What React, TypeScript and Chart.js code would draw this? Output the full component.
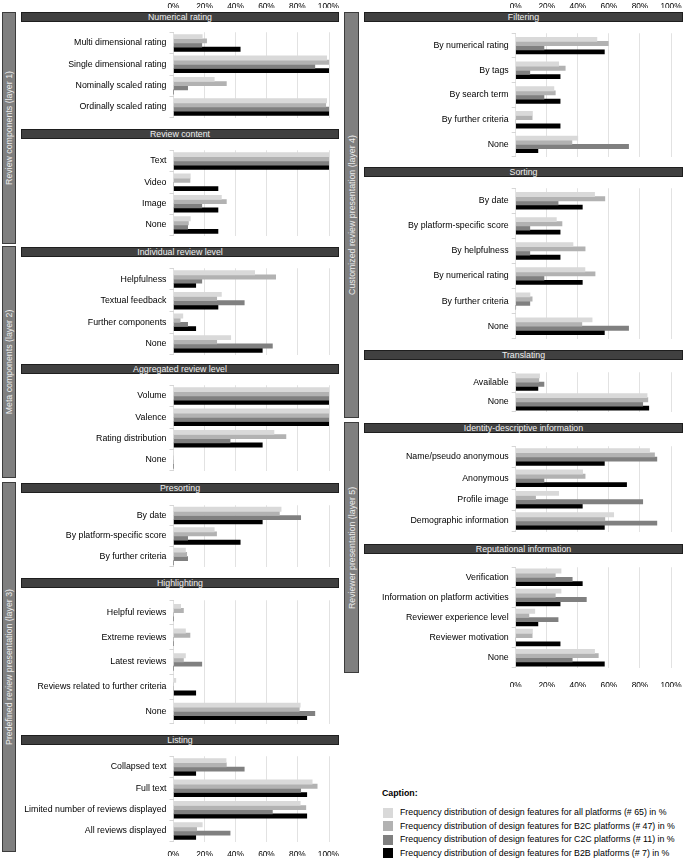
import React, { useEffect, useRef } from 'react';
import { Chart, registerables } from 'chart.js';
Chart.register(...registerables);

const FONT = '"Liberation Sans", Arial, Helvetica, sans-serif';

const SERIES = [
  'Frequency distribution of design features for all platforms (# 65) in %',
  'Frequency distribution of design features for B2C platforms (# 47) in %',
  'Frequency distribution of design features for C2C platforms (# 11) in %',
  'Frequency distribution of design features for B2B platforms (# 7) in %',
];
const COLORS = ['#d9d9d9', '#b2b2b2', '#808080', '#000000'];

// ---------- data ----------
const numRatingLabels = ['Multi dimensional rating', 'Single dimensional rating', 'Nominally scaled rating', 'Ordinally scaled rating'];
const numRatingAll = [18.5, 98.5, 26.2, 98.5];
const numRatingB2C = [21.3, 100, 34.0, 97.9];
const numRatingC2C = [18.2, 90.9, 9.1, 100];
const numRatingB2B = [42.9, 100, 0, 100];

const contentLabels = ['Text', 'Video', 'Image', 'None'];
const contentAll = [100, 10.8, 30.8, 10.8];
const contentB2C = [100, 10.6, 34.0, 9.6];
const contentC2C = [100, 0, 18.2, 9.1];
const contentB2B = [100, 28.6, 28.6, 28.6];

const individualLabels = ['Helpfulness', 'Textual feedback', 'Further components', 'None'];
const individualAll = [52.2, 30.8, 6.0, 36.8];
const individualB2C = [65.7, 27.8, 4.3, 27.8];
const individualC2C = [18.2, 45.5, 9.1, 63.6];
const individualB2B = [14.3, 28.6, 14.3, 57.1];

const aggregatedLabels = ['Volume', 'Valence', 'Rating distribution', 'None'];
const aggregatedAll = [100, 100, 64.6, 0];
const aggregatedB2C = [100, 100, 72.3, 0];
const aggregatedC2C = [100, 100, 36.4, 0];
const aggregatedB2B = [100, 100, 57.1, 0];

const presortLabels = ['By date', 'By platform-specific score', 'By further criteria'];
const presortAll = [69.2, 26.2, 7.7];
const presortB2C = [68.1, 27.7, 8.5];
const presortC2C = [81.8, 9.1, 9.1];
const presortB2B = [57.1, 42.9, 0];

const highlightLabels = ['Helpful reviews', 'Extreme reviews', 'Latest reviews', 'Reviews related to further criteria', 'None'];
const highlightAll = [4.6, 7.7, 7.7, 1.5, 81.5];
const highlightB2C = [6.4, 10.6, 6.4, 0, 80.9];
const highlightC2C = [0, 0, 18.2, 0, 90.9];
const highlightB2B = [0, 0, 0, 14.3, 85.7];

const listingLabels = ['Collapsed text', 'Full text', 'Limited number of reviews displayed', 'All reviews displayed'];
const listingAll = [33.8, 89.2, 81.5, 18.5];
const listingB2C = [34.0, 92.4, 85.1, 14.9];
const listingC2C = [45.5, 81.8, 63.6, 36.4];
const listingB2B = [14.3, 85.7, 85.7, 14.3];

const filterLabels = ['By numerical rating', 'By tags', 'By search term', 'By further criteria', 'None'];
const filterAll = [52.3, 27.7, 24.6, 10.8, 40.0];
const filterB2C = [59.6, 31.9, 25.5, 10.6, 36.2];
const filterC2C = [18.2, 9.1, 18.2, 0, 72.7];
const filterB2B = [57.1, 28.6, 28.6, 28.6, 14.3];

const sortLabels = ['By date', 'By platform-specific score', 'By helpfulness', 'By numerical rating', 'By further criteria', 'None'];
const sortAll = [50.8, 26.2, 36.9, 44.6, 9.2, 49.2];
const sortB2C = [57.4, 29.8, 44.7, 51.1, 10.6, 42.6];
const sortC2C = [27.3, 9.1, 9.1, 18.2, 9.1, 72.7];
const sortB2B = [42.9, 28.6, 28.6, 42.9, 0, 57.1];

const translateLabels = ['Available', 'None'];
const translateAll = [15.4, 84.6];
const translateB2C = [14.9, 85.1];
const translateC2C = [18.2, 81.8];
const translateB2B = [14.3, 85.7];

const identityLabels = ['Name/pseudo anonymous', 'Anonymous', 'Profile image', 'Demographic information'];
const identityAll = [86.2, 43.1, 27.7, 63.1];
const identityB2C = [89.4, 44.7, 12.8, 57.4];
const identityC2C = [90.9, 18.2, 81.8, 90.9];
const identityB2B = [57.1, 71.4, 42.9, 57.1];

const reputLabels = ['Verification', 'Information on platform activities', 'Reviewer experience level', 'Reviewer motivation', 'None'];
const reputAll = [29.2, 29.2, 12.3, 10.8, 50.8];
const reputB2C = [25.5, 25.5, 8.5, 10.6, 53.2];
const reputC2C = [36.4, 45.5, 27.3, 0, 36.4];
const reputB2B = [42.9, 28.6, 14.3, 28.6, 57.1];

const X_MIN = 0;
const X_MAX = 100;
const X_STEP = 20;

// ---------- layout ----------
type ColKey = 'L' | 'R';
const COLS: Record<ColKey, { left: number; width: number; yWidth: number; rightPad: number }> = {
  L: { left: 21, width: 318, yWidth: 152.5, rightPad: 10 },
  R: { left: 364, width: 319, yWidth: 151.7, rightPad: 12 },
};

type Section = {
  title: string;
  col: ColKey;
  labels: string[];
  values: number[][];
  headerTop: number;
  plotTop: number;
  plotBottom: number;
};

const SECTIONS: Section[] = [
  { title: 'Numerical rating', col: 'L', labels: numRatingLabels, values: [numRatingAll, numRatingB2C, numRatingC2C, numRatingB2B], headerTop: 12, plotTop: 24, plotBottom: 126 },
  { title: 'Review content', col: 'L', labels: contentLabels, values: [contentAll, contentB2C, contentC2C, contentB2B], headerTop: 129, plotTop: 142, plotBottom: 244 },
  { title: 'Individual review level', col: 'L', labels: individualLabels, values: [individualAll, individualB2C, individualC2C, individualB2B], headerTop: 247, plotTop: 260, plotBottom: 363 },
  { title: 'Aggregated review level', col: 'L', labels: aggregatedLabels, values: [aggregatedAll, aggregatedB2C, aggregatedC2C, aggregatedB2B], headerTop: 364, plotTop: 377, plotBottom: 479 },
  { title: 'Presorting', col: 'L', labels: presortLabels, values: [presortAll, presortB2C, presortC2C, presortB2B], headerTop: 483, plotTop: 497, plotBottom: 575 },
  { title: 'Highlighting', col: 'L', labels: highlightLabels, values: [highlightAll, highlightB2C, highlightC2C, highlightB2B], headerTop: 578, plotTop: 592, plotBottom: 732 },
  { title: 'Listing', col: 'L', labels: listingLabels, values: [listingAll, listingB2C, listingC2C, listingB2B], headerTop: 735, plotTop: 748, plotBottom: 850 },
  { title: 'Filtering', col: 'R', labels: filterLabels, values: [filterAll, filterB2C, filterC2C, filterB2B], headerTop: 12, plotTop: 25, plotBottom: 165 },
  { title: 'Sorting', col: 'R', labels: sortLabels, values: [sortAll, sortB2C, sortC2C, sortB2B], headerTop: 167, plotTop: 180, plotBottom: 347 },
  { title: 'Translating', col: 'R', labels: translateLabels, values: [translateAll, translateB2C, translateC2C, translateB2B], headerTop: 350, plotTop: 364, plotBottom: 420 },
  { title: 'Identity-descriptive information', col: 'R', labels: identityLabels, values: [identityAll, identityB2C, identityC2C, identityB2B], headerTop: 423, plotTop: 438, plotBottom: 540 },
  { title: 'Reputational information', col: 'R', labels: reputLabels, values: [reputAll, reputB2C, reputC2C, reputB2B], headerTop: 544, plotTop: 559, plotBottom: 676 },
];

const LAYERS = [
  { text: 'Review components (layer 1)', left: 2, width: 14, top: 12, bottom: 244 },
  { text: 'Meta components (layer 2)', left: 2, width: 14, top: 246, bottom: 478 },
  { text: 'Predefined review presentation (layer 3)', left: 2, width: 14, top: 482, bottom: 852 },
  { text: 'Customized review presentation (layer 4)', left: 344, width: 15, top: 12, bottom: 418 },
  { text: 'Reviewer presentation (layer 5)', left: 344, width: 15, top: 422, bottom: 673 },
];

const AXES = [
  { col: 'L' as ColKey, top: -5, height: 13 },
  { col: 'R' as ColKey, top: -5, height: 13 },
  { col: 'L' as ColKey, top: 843, height: 13 },
  { col: 'R' as ColKey, top: 674, height: 13 },
];

function SectionChart({ sec }: { sec: Section }) {
  const ref = useRef<HTMLCanvasElement>(null);
  const col = COLS[sec.col];
  const h = sec.plotBottom - sec.plotTop;
  useEffect(() => {
    const chart = new Chart(ref.current as HTMLCanvasElement, {
      type: 'bar',
      data: {
        labels: sec.labels,
        datasets: sec.values.map((d, i) => ({
          label: SERIES[i],
          data: d,
          backgroundColor: COLORS[i],
          borderWidth: 0,
          barThickness: 4.2,
        })),
      },
      options: {
        indexAxis: 'y',
        animation: false,
        responsive: false,
        maintainAspectRatio: false,
        layout: { padding: { left: 0, right: col.rightPad, top: 0, bottom: 0 } },
        plugins: { legend: { display: false }, tooltip: { enabled: false } },
        scales: {
          x: {
            min: X_MIN,
            max: X_MAX,
            ticks: { display: false, stepSize: X_STEP },
            grid: { color: '#e2e2e2', drawTicks: false },
            border: { display: false },
            afterFit: (s: any) => { s.height = 0; },
          },
          y: {
            ticks: { color: '#000', font: { family: FONT, size: 8.8 }, padding: 3, autoSkip: false },
            grid: { drawOnChartArea: false, tickLength: 4, color: '#d6d6d6' },
            border: { display: false },
            afterFit: (s: any) => { s.width = col.yWidth; },
          },
        },
      } as any,
    });
    return () => chart.destroy();
  }, []);
  return (
    <canvas
      ref={ref}
      width={col.width}
      height={h}
      style={{ position: 'absolute', left: col.left, top: sec.plotTop, width: col.width, height: h, display: 'block' }}
    />
  );
}

function AxisChart({ col, top, height }: { col: ColKey; top: number; height: number }) {
  const ref = useRef<HTMLCanvasElement>(null);
  const c = COLS[col];
  useEffect(() => {
    const chart = new Chart(ref.current as HTMLCanvasElement, {
      type: 'bar',
      data: { labels: [''], datasets: [{ data: [] }] },
      options: {
        indexAxis: 'y',
        animation: false,
        responsive: false,
        maintainAspectRatio: false,
        layout: { padding: { left: c.yWidth, right: c.rightPad, top: 0, bottom: 0 } },
        plugins: { legend: { display: false }, tooltip: { enabled: false } },
        scales: {
          x: {
            position: 'bottom',
            min: X_MIN,
            max: X_MAX,
            ticks: {
              stepSize: X_STEP,
              callback: (v: any) => v + '%',
              color: '#000',
              font: { family: FONT, size: 8.3 },
              padding: 0,
              maxRotation: 0,
              autoSkip: false,
            },
            grid: { display: false, drawTicks: false },
            border: { display: false },
          },
          y: { display: false },
        },
      } as any,
    });
    return () => chart.destroy();
  }, []);
  return (
    <canvas
      ref={ref}
      width={c.width}
      height={height}
      style={{ position: 'absolute', left: c.left, top, width: c.width, height, display: 'block' }}
    />
  );
}

export default function App() {
  return (
    <div style={{ position: 'absolute', left: 0, top: 0, width: 685, height: 861, background: '#fff', fontFamily: FONT, overflow: 'hidden' }}>
      {LAYERS.map((l, i) => (
        <div
          key={'layer' + i}
          style={{
            position: 'absolute',
            left: l.left,
            top: l.top,
            width: l.width,
            height: l.bottom - l.top,
            background: '#7f7f7f',
            border: '1px solid #3c3c3c',
            boxSizing: 'border-box',
          }}
        >
          <span
            style={{
              position: 'absolute',
              left: '50%',
              top: '50%',
              transform: 'translate(-50%, -50%) rotate(-90deg)',
              whiteSpace: 'nowrap',
              color: '#ececec',
              fontSize: 8.8,
              lineHeight: '10px',
            }}
          >
            {l.text}
          </span>
        </div>
      ))}
      {SECTIONS.map((s, i) => (
        <div
          key={'hdr' + i}
          style={{
            position: 'absolute',
            left: COLS[s.col].left,
            top: s.headerTop,
            width: COLS[s.col].width,
            height: 10,
            background: '#404040',
            border: '1px solid #1e1e1e',
            boxSizing: 'border-box',
            color: '#f0f0f0',
            fontSize: 8.8,
            lineHeight: '8px',
            textAlign: 'center',
            whiteSpace: 'nowrap',
          }}
        >
          {s.title}
        </div>
      ))}
      {SECTIONS.map((s, i) => (
        <SectionChart key={'chart' + i} sec={s} />
      ))}
      {AXES.map((a, i) => (
        <AxisChart key={'axis' + i} col={a.col} top={a.top} height={a.height} />
      ))}
      <div style={{ position: 'absolute', left: 382, top: 788, fontSize: 8.8, fontWeight: 'bold', color: '#000', lineHeight: '11px' }}>
        Caption:
      </div>
      {SERIES.map((t, i) => (
        <div key={'leg' + i} style={{ position: 'absolute', left: 383, top: 807 + i * 13.5, height: 11, display: 'flex', alignItems: 'center' }}>
          <div style={{ width: 10, height: 10, background: COLORS[i], marginRight: 7 }} />
          <span style={{ fontSize: 8.8, color: '#000', whiteSpace: 'nowrap', lineHeight: '11px' }}>{t}</span>
        </div>
      ))}
    </div>
  );
}
